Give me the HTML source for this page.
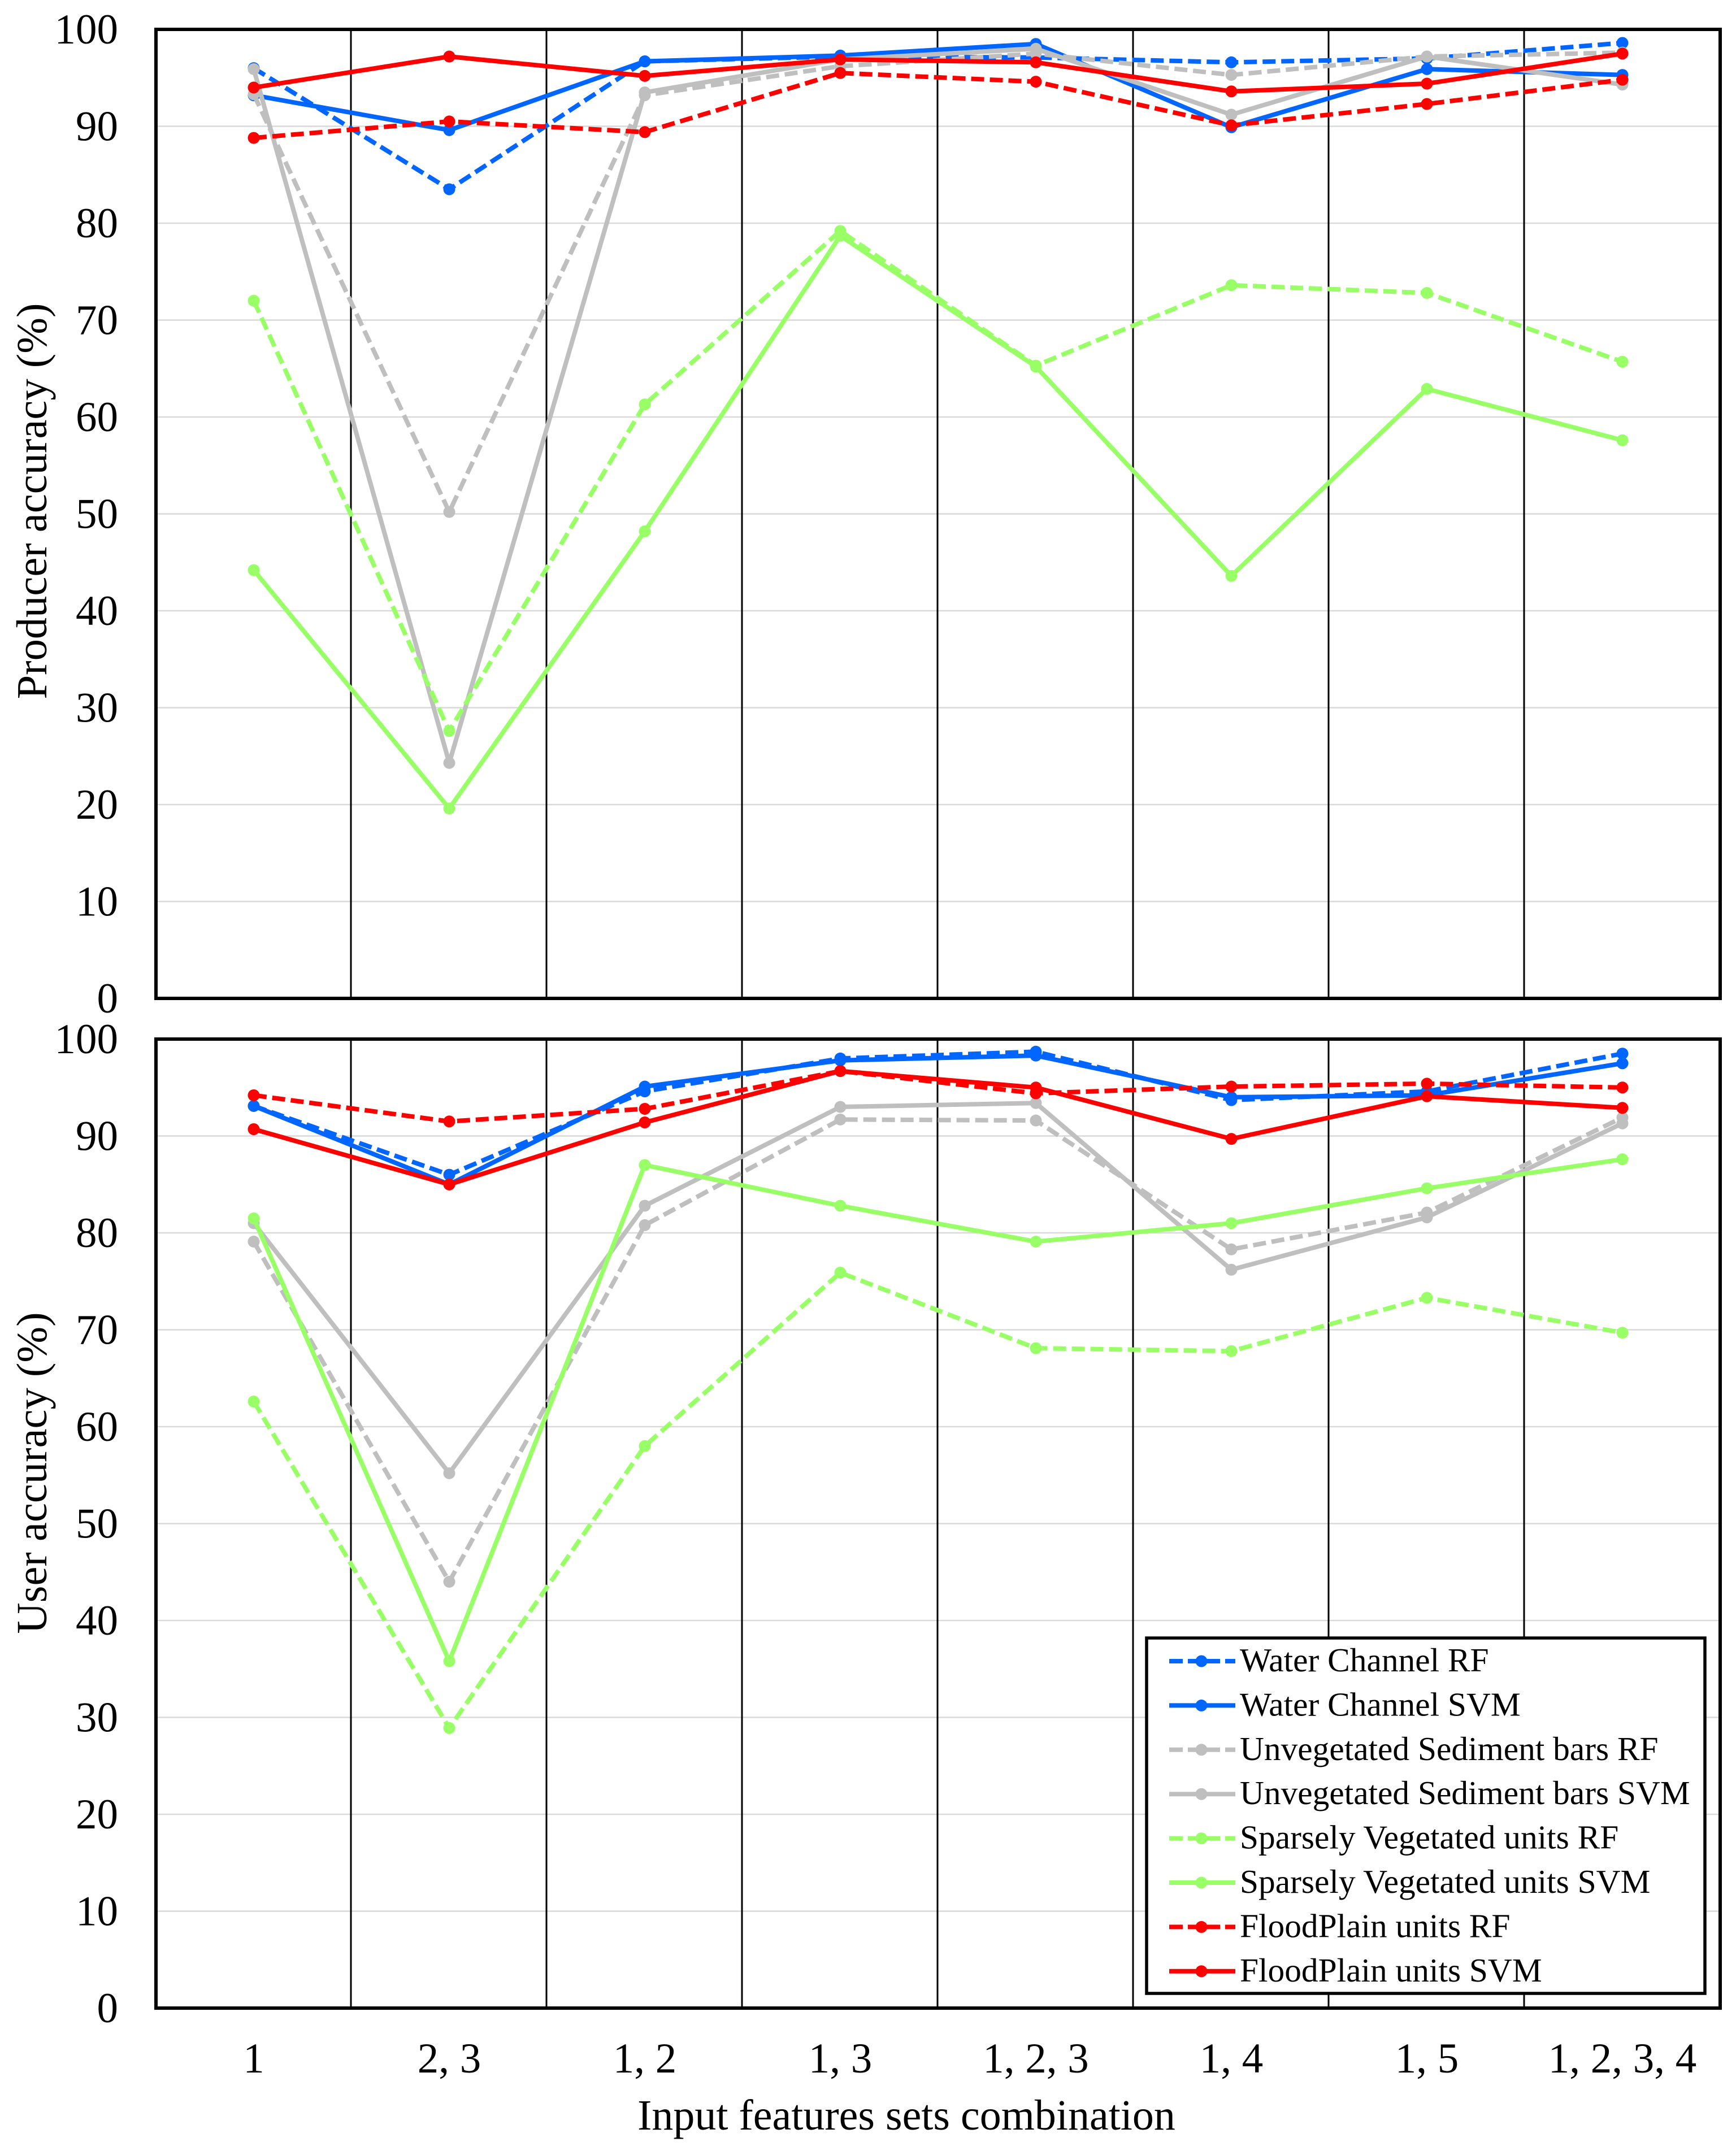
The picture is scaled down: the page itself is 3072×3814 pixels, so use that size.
<!DOCTYPE html>
<html>
<head>
<meta charset="utf-8">
<title>Producer and user accuracy by input feature set</title>
<style>
html,body{margin:0;padding:0;background:#fff;}
svg{display:block;}
text{font-family:"Liberation Serif",serif;fill:#000;}
</style>
</head>
<body>
<svg id="chart" xmlns="http://www.w3.org/2000/svg" width="3072" height="3814" viewBox="0 0 3072 3814">
  <rect x="0" y="0" width="3072" height="3814" fill="#fff"/>
  <text font-size="76.5" text-anchor="middle" transform="translate(82,887) rotate(-90)">Producer accuracy (%)</text>
  <text font-size="76.5" text-anchor="middle" transform="translate(82,2607) rotate(-90)">User accuracy (%)</text>
  <text font-size="76" text-anchor="middle" x="1604" y="3769">Input features sets combination</text>
  <g id="panels"></g>
  <g id="xticks"></g>
  <g id="legend"></g>
</svg>
<script>
const categories = ['1', '2, 3', '1, 2', '1, 3', '1, 2, 3', '1, 4', '1, 5', '1, 2, 3, 4'];
const yTicks = [0, 10, 20, 30, 40, 50, 60, 70, 80, 90, 100];
const seriesNames = ['Water Channel RF', 'Water Channel SVM', 'Unvegetated Sediment bars RF', 'Unvegetated Sediment bars SVM', 'Sparsely Vegetated units RF', 'Sparsely Vegetated units SVM', 'FloodPlain units RF', 'FloodPlain units SVM'];

const producerWaterRF = [96, 83.5, 96.7, 97.2, 97.1, 96.6, 97, 98.6];
const producerWaterSVM = [93.2, 89.6, 96.7, 97.3, 98.5, 89.9, 95.9, 95.3];
const producerSedimentRF = [93.3, 50.2, 93.2, 96.2, 97.5, 95.3, 97.2, 97.6];
const producerSedimentSVM = [95.9, 24.3, 93.5, 96.9, 98, 91.2, 97.2, 94.3];
const producerSparseRF = [72, 27.6, 61.3, 79.2, 65.3, 73.6, 72.8, 65.7];
const producerSparseSVM = [44.2, 19.6, 48.2, 78.7, 65.2, 43.6, 62.9, 57.6];
const producerFloodRF = [88.8, 90.5, 89.4, 95.5, 94.6, 90.1, 92.3, 94.8];
const producerFloodSVM = [94, 97.2, 95.2, 96.9, 96.6, 93.6, 94.4, 97.5];

const userWaterRF = [93.1, 86, 94.6, 98, 98.7, 93.7, 94.6, 98.5];
const userWaterSVM = [93.1, 85, 95.1, 97.8, 98.3, 94, 94.2, 97.5];
const userSedimentRF = [79.1, 44, 80.8, 91.7, 91.6, 78.3, 82.1, 91.9];
const userSedimentSVM = [81, 55.2, 82.8, 93, 93.4, 76.2, 81.6, 91.3];
const userSparseRF = [62.6, 28.9, 58, 75.9, 68.1, 67.8, 73.3, 69.7];
const userSparseSVM = [81.5, 35.8, 87, 82.8, 79.1, 81, 84.6, 87.6];
const userFloodRF = [94.2, 91.5, 92.8, 96.7, 94.4, 95.1, 95.4, 95];
const userFloodSVM = [90.7, 85, 91.4, 96.7, 95, 89.7, 94.1, 92.9];

const producerSeries = [producerWaterRF, producerWaterSVM, producerSedimentRF, producerSedimentSVM, producerSparseRF, producerSparseSVM, producerFloodRF, producerFloodSVM];
const userSeries = [userWaterRF, userWaterSVM, userSedimentRF, userSedimentSVM, userSparseRF, userSparseSVM, userFloodRF, userFloodSVM];

const NS = 'http://www.w3.org/2000/svg';
const LEFT = 276, RIGHT = 3044;
const colors = ['#0066ff', '#0066ff', '#bfbfbf', '#bfbfbf', '#99ff66', '#99ff66', '#ff0000', '#ff0000'];
const DASH = '23 10';

function kebab(s) { return s.toLowerCase().replace(/[^a-z0-9]+/g, '-').replace(/^-|-$/g, ''); }
function make(parent, tag, props) {
  const el = document.createElementNS(NS, tag);
  for (const k in props) el.setAttribute(k, props[k]);
  parent.appendChild(el);
  return el;
}
function xScale(i) { return LEFT + (RIGHT - LEFT) * (i + 0.5) / categories.length; }
function yScaleFor(top, bottom) { return v => bottom - (bottom - top) * v / 100; }

function drawPanel(prefix, top, bottom, data) {
  const root = document.getElementById('panels');
  const y = yScaleFor(top, bottom);
  const g = make(root, 'g', {});
  
  

  yTicks.forEach(t => {
    if (t !== 0 && t !== 100) {
      const grid = make(g, 'line', { x1: LEFT, x2: RIGHT, y1: y(t), y2: y(t), stroke: '#d9d9d9', 'stroke-width': 2.5 });
      
      
    }
    const label = make(g, 'text', { x: 209, y: y(t) + 25, 'text-anchor': 'end', 'font-size': 75 });
    label.textContent = t;
    
    
  });

  for (let i = 1; i < categories.length; i++) {
    const sep = LEFT + (RIGHT - LEFT) * i / categories.length - 1;
    const v = make(g, 'line', { x1: sep, x2: sep, y1: top, y2: bottom, stroke: '#000', 'stroke-width': 3 });
    
    
  }

  data.forEach((values, s) => {
    const sg = make(g, 'g', {});
    
    
    const pts = values.map((v, i) => xScale(i) + ',' + y(v)).join(' ');
    const line = make(sg, 'polyline', { points: pts, fill: 'none', stroke: colors[s], 'stroke-width': 8, 'stroke-linejoin': 'round' });
    if (s % 2 === 0) line.setAttribute('stroke-dasharray', DASH);
    
    
    values.forEach((v, i) => {
      const dot = make(sg, 'circle', { cx: xScale(i), cy: y(v), r: 10.5, fill: colors[s] });
      
      
    });
  });

  const frame = make(g, 'rect', { x: LEFT, y: top, width: RIGHT - LEFT, height: bottom - top, fill: 'none', stroke: '#000', 'stroke-width': 6 });
  
  
}

drawPanel('producer', 52, 1767, producerSeries);
drawPanel('user', 1839, 3554, userSeries);

const xticksRoot = document.getElementById('xticks');
categories.forEach((c, i) => {
  const t = make(xticksRoot, 'text', { x: xScale(i), y: 3668, 'text-anchor': 'middle', 'font-size': 75 });
  t.textContent = c;
  
  
});

const legendRoot = document.getElementById('legend');


const box = make(legendRoot, 'rect', { x: 2029, y: 2899, width: 988, height: 629, fill: '#fff', stroke: '#000', 'stroke-width': 5.5 });


seriesNames.forEach((name, s) => {
  const cy = 2940 + s * 78.4;
  const entry = make(legendRoot, 'g', {});
  
  
  const l = make(entry, 'line', { x1: 2069, x2: 2186, y1: cy, y2: cy, stroke: colors[s], 'stroke-width': 8 });
  if (s % 2 === 0) l.setAttribute('stroke-dasharray', '24 9');
  
  
  const d = make(entry, 'circle', { cx: 2126, cy: cy, r: 10.5, fill: colors[s] });
  
  
  const t = make(entry, 'text', { x: 2194, y: cy + 18, 'font-size': 59.4 });
  t.textContent = name;
  
  
});
</script>
</body>
</html>
